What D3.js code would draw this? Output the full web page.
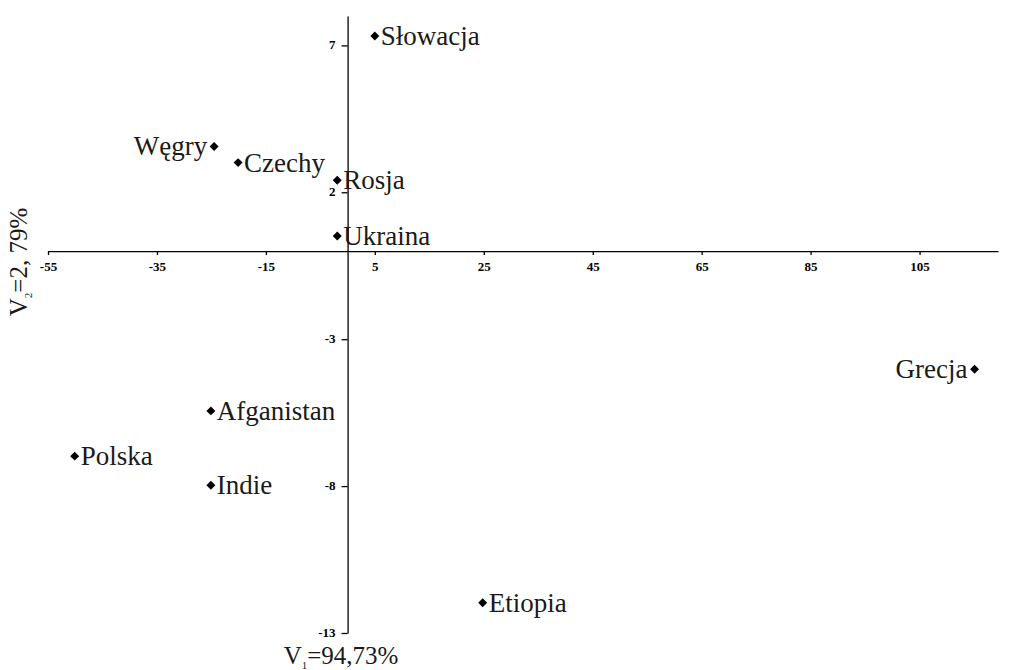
<!DOCTYPE html>
<html>
<head>
<meta charset="utf-8">
<script src="https://cdn.jsdelivr.net/npm/d3@7"></script>
<style>
  body { margin: 0; background: #fff; }
  svg { display: block; font-family: 'Liberation Serif', 'Times New Roman', serif; }
  .axis path, .axis line { stroke: #000; stroke-width: 1.3px; }
  .axis text { font-family: 'Liberation Serif', 'Times New Roman', serif; font-size: 13px; font-weight: bold; fill: #000; }
  .label { font-size: 27px; fill: #1a1a1a; }
  .title { font-size: 25px; fill: #1a1a1a; }
</style>
</head>
<body>
<script>
// Data
const countries = ['Słowacja', 'Węgry', 'Czechy', 'Rosja', 'Ukraina', 'Grecja', 'Afganistan', 'Polska', 'Indie', 'Etiopia'];
const v1 = [5.0, -24.5, -20.1, -1.9, -1.9, 115.1, -25.1, -50.1, -25.1, 24.8];
const v2 = [7.32, 3.56, 3.01, 2.41, 0.51, -4.02, -5.44, -6.98, -7.97, -11.97];
const xTicks = [-55, -35, -15, 5, 25, 45, 65, 85, 105];
const yTicks = [7, 2, -3, -8, -13];

const dataset = countries.map((name, i) => ({ name, x: v1[i], y: v2[i] }));

// labels that sit on the left of their marker
const leftLabelled = new Set(['Węgry', 'Grecja']);

const width = 1025;
const height = 670;

const svg = d3.select('body')
  .append('svg')
  .attr('width', width)
  .attr('height', height);

// Scales
const xScale = d3.scaleLinear()
  .domain([-55, 119.4])
  .range([48, 998]);

const yScale = d3.scaleLinear()
  .domain([-13, 8])
  .range([633, 16]);

// X axis through y = 0
svg.append('g')
  .attr('class', 'axis')
  .attr('transform', `translate(0, ${yScale(0)})`)
  .call(d3.axisBottom(xScale)
    .tickValues(xTicks)
    .tickSize(4)
    .tickSizeOuter(0)
    .tickPadding(7)
    .tickFormat(d => String(d)));

// Y axis through x = 0
svg.append('g')
  .attr('class', 'axis')
  .attr('transform', `translate(${xScale(0)}, 0)`)
  .call(d3.axisLeft(yScale)
    .tickValues(yTicks)
    .tickSize(6)
    .tickSizeOuter(0)
    .tickPadding(6)
    .tickFormat(d => String(d)))
  .call(g => g.selectAll('text').attr('dy', '0.25em'));

// Points
const diamond = d3.symbol().type(d3.symbolSquare).size(40);

svg.selectAll('path.dot')
  .data(dataset)
  .enter()
  .append('path')
  .attr('class', 'dot')
  .attr('d', diamond)
  .attr('transform', d => `translate(${xScale(d.x)}, ${yScale(d.y)}) rotate(45)`)
  .style('fill', '#000');

// Point labels
svg.selectAll('text.label')
  .data(dataset)
  .enter()
  .append('text')
  .attr('class', 'label')
  .attr('x', d => xScale(d.x) + (leftLabelled.has(d.name) ? -7 : 6))
  .attr('y', d => yScale(d.y))
  .attr('dy', '0.33em')
  .attr('text-anchor', d => leftLabelled.has(d.name) ? 'end' : 'start')
  .text(d => d.name);

// X axis title
const xTitle = svg.append('text')
  .attr('class', 'title')
  .attr('x', 341)
  .attr('y', 664)
  .attr('text-anchor', 'middle');
xTitle.append('tspan').text('V');
xTitle.append('tspan').attr('dy', 5).style('font-size', '11px').text('1');
xTitle.append('tspan').attr('dy', -5).text('=94,73%');

// Y axis title
const yTitle = svg.append('text')
  .attr('class', 'title')
  .attr('transform', 'translate(27, 262) rotate(-90)')
  .attr('text-anchor', 'middle');
yTitle.append('tspan').text('V');
yTitle.append('tspan').attr('dy', 5).style('font-size', '11px').text('2');
yTitle.append('tspan').attr('dy', -5).text('=2, 79%');
</script>
</body>
</html>
